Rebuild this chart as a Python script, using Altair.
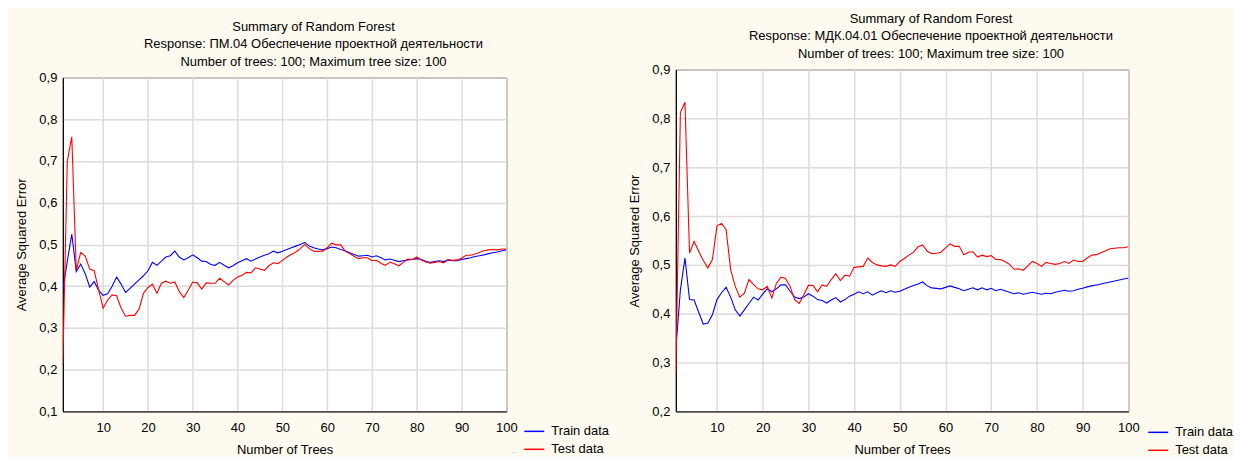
import altair as alt
import pandas as pd

FONT = "Liberation Sans"
CREAM = "#FEFAEF"

trees = list(range(1, 101))
x_ticks = [10, 20, 30, 40, 50, 60, 70, 80, 90, 100]
left_y_ticks = [0.1, 0.2, 0.3, 0.4, 0.5, 0.6, 0.7, 0.8, 0.9]
right_y_ticks = [0.2, 0.3, 0.4, 0.5, 0.6, 0.7, 0.8, 0.9]
series_names = ["Train data", "Test data"]
series_colors = ["#0000FF", "#FF0000"]

title_main = "Summary of Random Forest"
title_tail = "Number of trees: 100; Maximum tree size: 100"
left_response = "Response: ПМ.04 Обеспечение проектной деятельности"
right_response = "Response: МДК.04.01 Обеспечение проектной деятельности"

left_train = [
    0.390, 0.460, 0.525, 0.435, 0.453, 0.430, 0.398, 0.411, 0.390, 0.378,
    0.382, 0.400, 0.422, 0.405, 0.385, 0.395, 0.405, 0.415, 0.425, 0.437,
    0.457, 0.450, 0.460, 0.470, 0.473, 0.484, 0.470, 0.463, 0.468, 0.475,
    0.468, 0.460, 0.459, 0.452, 0.450, 0.457, 0.450, 0.444, 0.449, 0.456,
    0.461, 0.466, 0.460, 0.465, 0.470, 0.474, 0.478, 0.484, 0.480, 0.484,
    0.488, 0.492, 0.496, 0.500, 0.505, 0.496, 0.492, 0.489, 0.487, 0.490,
    0.494, 0.492, 0.488, 0.485, 0.480, 0.476, 0.472, 0.473, 0.474, 0.470,
    0.473, 0.468, 0.463, 0.465, 0.462, 0.459, 0.461, 0.463, 0.464, 0.466,
    0.464, 0.460, 0.457, 0.459, 0.461, 0.459, 0.463, 0.461, 0.461, 0.464,
    0.466, 0.468, 0.471, 0.473, 0.475, 0.478, 0.480, 0.482, 0.485, 0.487,
]
left_test = [
    0.215, 0.700, 0.758, 0.438, 0.481, 0.472, 0.441, 0.437, 0.391, 0.347,
    0.367, 0.379, 0.377, 0.348, 0.328, 0.330, 0.330, 0.345, 0.383, 0.397,
    0.405, 0.383, 0.407, 0.412, 0.407, 0.410, 0.387, 0.373, 0.391, 0.410,
    0.408, 0.393, 0.408, 0.407, 0.407, 0.419, 0.411, 0.403, 0.414, 0.422,
    0.426, 0.433, 0.432, 0.444, 0.441, 0.438, 0.449, 0.456, 0.454, 0.462,
    0.470, 0.476, 0.482, 0.490, 0.500, 0.490, 0.484, 0.483, 0.484, 0.492,
    0.503, 0.499, 0.499, 0.484, 0.478, 0.472, 0.466, 0.468, 0.468, 0.461,
    0.462, 0.455, 0.450, 0.458, 0.454, 0.449, 0.457, 0.465, 0.464, 0.470,
    0.463, 0.458, 0.455, 0.457, 0.459, 0.456, 0.464, 0.462, 0.463, 0.467,
    0.474, 0.474, 0.477, 0.481, 0.485, 0.487, 0.488, 0.487, 0.489, 0.489,
]
right_train = [
    0.327, 0.449, 0.514, 0.429, 0.428, 0.403, 0.379, 0.381, 0.398, 0.429,
    0.443, 0.454, 0.434, 0.408, 0.395, 0.408, 0.421, 0.434, 0.428, 0.440,
    0.451, 0.445, 0.451, 0.459, 0.459, 0.446, 0.434, 0.431, 0.434, 0.441,
    0.436, 0.429, 0.427, 0.422, 0.428, 0.433, 0.424, 0.429, 0.436, 0.440,
    0.445, 0.441, 0.445, 0.438, 0.443, 0.447, 0.443, 0.447, 0.444, 0.446,
    0.450, 0.454, 0.458, 0.461, 0.465, 0.457, 0.453, 0.452, 0.451, 0.454,
    0.457, 0.454, 0.451, 0.447, 0.450, 0.453, 0.449, 0.453, 0.449, 0.452,
    0.447, 0.450, 0.447, 0.444, 0.441, 0.443, 0.440, 0.442, 0.444, 0.442,
    0.440, 0.442, 0.441, 0.444, 0.446, 0.448, 0.446, 0.447, 0.450, 0.452,
    0.455, 0.457, 0.459, 0.461, 0.463, 0.465, 0.467, 0.469, 0.471, 0.473,
]
right_test = [
    0.277, 0.812, 0.833, 0.524, 0.548, 0.528, 0.509, 0.494, 0.511, 0.580,
    0.585, 0.572, 0.490, 0.456, 0.434, 0.442, 0.470, 0.460, 0.451, 0.449,
    0.456, 0.432, 0.462, 0.475, 0.472, 0.456, 0.429, 0.421, 0.439, 0.458,
    0.458, 0.445, 0.459, 0.456, 0.470, 0.482, 0.468, 0.479, 0.477, 0.495,
    0.496, 0.497, 0.514, 0.505, 0.500, 0.498, 0.497, 0.500, 0.497, 0.507,
    0.513, 0.520, 0.526, 0.537, 0.541, 0.528, 0.523, 0.524, 0.526, 0.535,
    0.543, 0.538, 0.538, 0.521, 0.526, 0.527, 0.516, 0.520, 0.517, 0.519,
    0.511, 0.511, 0.507, 0.501, 0.491, 0.492, 0.489, 0.498, 0.507, 0.503,
    0.497, 0.505, 0.503, 0.501, 0.503, 0.507, 0.503, 0.510, 0.507, 0.507,
    0.514, 0.520, 0.521, 0.525, 0.529, 0.533, 0.534, 0.535, 0.535, 0.537,
]


def panel(train, test, response, y_ticks, width, height, legend_x, legend_y):
    df = pd.DataFrame({
        "trees": trees + trees,
        "ase": train + test,
        "series": [series_names[0]] * len(train) + [series_names[1]] * len(test),
    })
    return alt.Chart(df).mark_line(strokeWidth=1.1, clip=True).encode(
        x=alt.X(
            "trees:Q",
            title="Number of Trees",
            scale=alt.Scale(domain=[1, 100], nice=False, zero=False),
            axis=alt.Axis(values=x_ticks, labelFlush=False, labelOverlap=False),
        ),
        y=alt.Y(
            "ase:Q",
            title="Average Squared Error",
            scale=alt.Scale(domain=[y_ticks[0], y_ticks[-1]], nice=False, zero=False),
            axis=alt.Axis(
                values=y_ticks,
                labelExpr="replace(format(datum.value, '.1f'), '.', ',')",
                labelFlush=False,
                labelOverlap=False,
            ),
        ),
        color=alt.Color(
            "series:N",
            scale=alt.Scale(domain=series_names, range=series_colors),
            legend=alt.Legend(
                title=None,
                orient="none",
                legendX=legend_x,
                legendY=legend_y,
                symbolType="stroke",
                symbolSize=400,
                symbolStrokeWidth=1.5,
                labelFont=FONT,
                labelFontSize=13,
                labelColor="#000",
                labelOffset=6,
                rowPadding=-7,
                padding=0,
            ),
        ),
        detail="series:N",
    ).properties(
        width=width,
        height=height,
        title=alt.TitleParams(
            text=[title_main, response, title_tail],
            anchor="middle",
            frame="group",
            dx=29,
            font=FONT,
            fontSize=13,
            fontWeight="normal",
            color="#000",
            lineHeight=17.5,
            offset=3,
        ),
    )


left = panel(left_train, left_test, left_response, left_y_ticks, 445, 335, 462, 413)
right = panel(right_train, right_test, right_response, right_y_ticks, 454, 343, 473, 414)

spacer = alt.Chart(pd.DataFrame({"v": [0]})).mark_point(opacity=0).encode(
    x=alt.value(0), y=alt.value(0)
).properties(
    width=1, height=1,
    view=alt.ViewBackground(strokeOpacity=0, fillOpacity=0),
)

left_col = alt.vconcat(spacer, left, spacing=8)
right_col = alt.vconcat(spacer, right, spacing=0)

chart = alt.hconcat(left_col, right_col, spacing=18).resolve_scale(
    color="independent"
).resolve_legend(color="independent").properties(
    background=CREAM,
    padding={"left": 7, "top": -3, "right": 0, "bottom": 0},
).configure_view(
    stroke="#000", strokeWidth=1, fill="#FFFFFF"
).configure_axis(
    labelFont=FONT,
    labelFontSize=13,
    labelColor="#000",
    titleFont=FONT,
    titleFontSize=13,
    titleFontWeight="normal",
    titleColor="#000",
    ticks=False,
    domainColor="#000",
    domainWidth=1,
    gridColor="#DCDCDC",
    gridWidth=1.5,
    labelPadding=6,
    titlePadding=10,
).configure_axisX(
    labelPadding=10,
    titlePadding=9,
)

chart.save("out.html", embed_options={"renderer": "svg", "actions": False})
